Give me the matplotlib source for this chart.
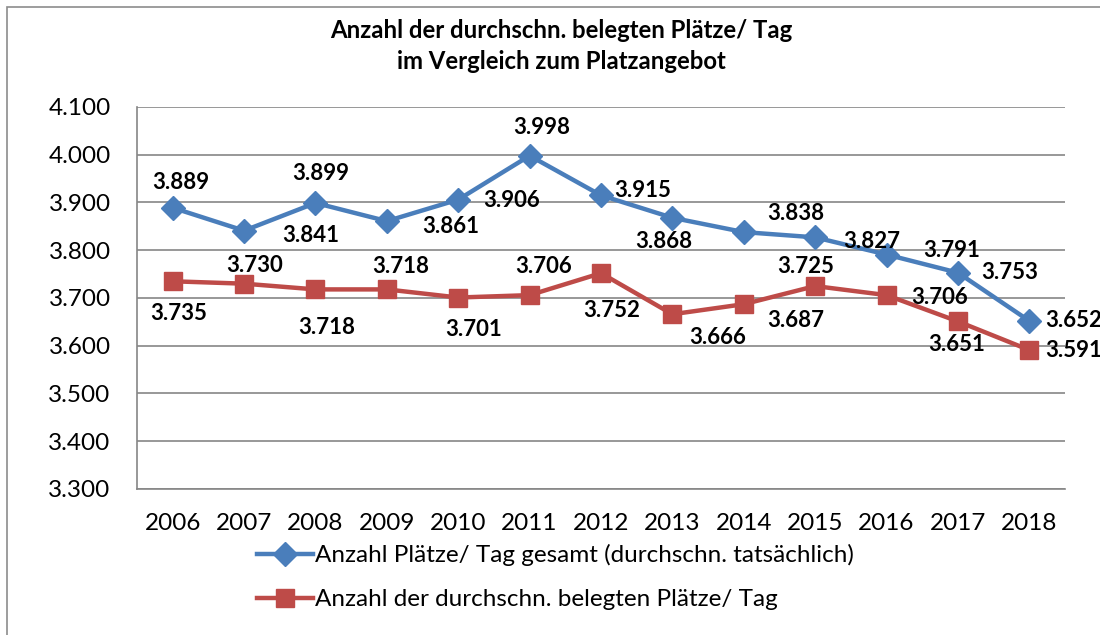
import matplotlib
matplotlib.use("Agg")
from matplotlib import pyplot as plt
from matplotlib.patches import Rectangle
from matplotlib.ticker import FuncFormatter

plt.rcParams['font.family'] = ['Lato', 'DejaVu Sans']

years = ['2006', '2007', '2008', '2009', '2010', '2011', '2012',
         '2013', '2014', '2015', '2016', '2017', '2018']
gesamt = [3889, 3841, 3899, 3861, 3906, 3998, 3915, 3868, 3838, 3827, 3791, 3753, 3652]
belegt = [3735, 3730, 3718, 3718, 3701, 3706, 3752, 3666, 3687, 3725, 3706, 3651, 3591]

label_gesamt = 'Anzahl Plätze/ Tag gesamt (durchschn. tatsächlich)'
label_belegt = 'Anzahl der durchschn. belegten Plätze/ Tag'

# label offsets in pixels (dx, dy), dy positive = down
off_gesamt = [(8, -25), (67, 5), (5, -29), (64, 5), (53, 1), (12, -28), (42, -5),
              (-9, 24), (52, -19), (57, 4), (65, -4), (52, 0), (44, 0)]
off_belegt = [(6, 32), (11, -18), (11, 38), (14, -23), (15, 32), (14, -29), (11, 37),
              (45, 23), (52, 16), (-9, -20), (53, 2), (-1, 23), (44, 0)]

blue = '#4A7EBB'
red = '#BE4B48'
grid = '#868686'


def de(v):
    return f'{v:,.0f}'.replace(',', '.')


fig = plt.figure(figsize=(11, 6.35), dpi=100)
fig.patches.append(Rectangle((7 / 1100, -0.05), 1.2, (628 / 635) + 0.05,
                             transform=fig.transFigure, fill=False,
                             edgecolor='#8c8c8c', lw=1.2))
ax = fig.add_axes([137 / 1100, 146 / 635, 928 / 1100, 382 / 635])

x = list(range(len(years)))
ax.plot(x, gesamt, color=blue, lw=3.2, marker='D', ms=12, label=label_gesamt, zorder=3)
ax.plot(x, belegt, color=red, lw=3.2, marker='s', ms=13.5, label=label_belegt, zorder=3)

for i, v in enumerate(gesamt):
    dx, dy = off_gesamt[i]
    ax.annotate(de(v), (i, v), xytext=(dx, -dy), textcoords='offset pixels',
                ha='center', va='center', fontsize=16, fontweight='bold',
                annotation_clip=False, zorder=4)
for i, v in enumerate(belegt):
    dx, dy = off_belegt[i]
    ax.annotate(de(v), (i, v), xytext=(dx, -dy), textcoords='offset pixels',
                ha='center', va='center', fontsize=16, fontweight='bold',
                annotation_clip=False, zorder=4)

ax.set_xlim(-0.5, len(years) - 0.5)
ax.set_ylim(3300, 4100)
ax.set_yticks(range(3300, 4101, 100))
ax.yaxis.set_major_formatter(FuncFormatter(lambda v, p: de(v)))
ax.set_xticks(x)
ax.set_xticklabels(years)
ax.tick_params(length=0, labelsize=17.5, colors='black')
ax.tick_params(axis='y', pad=19)
ax.tick_params(axis='x', pad=17)
ax.grid(axis='y', color=grid, lw=1.2)
ax.set_axisbelow(True)
for s in ['top', 'right']:
    ax.spines[s].set_visible(False)
for s in ['left', 'bottom']:
    ax.spines[s].set_color(grid)
    ax.spines[s].set_linewidth(1.2)

fig.text(561 / 1100, 1 - 46 / 635, 'Anzahl der durchschn. belegten Plätze/ Tag\nim Vergleich zum Platzangebot',
         ha='center', va='center', fontsize=17.2, fontweight='bold', linespacing=1.4)

fig.legend(loc='upper left', bbox_to_anchor=(257 / 1100, 1 - 544 / 635), frameon=False,
           fontsize=17.5, labelspacing=0.95, handlelength=2.3, handletextpad=0.1,
           borderaxespad=0, borderpad=0)

fig.savefig('out.png', dpi=100)
